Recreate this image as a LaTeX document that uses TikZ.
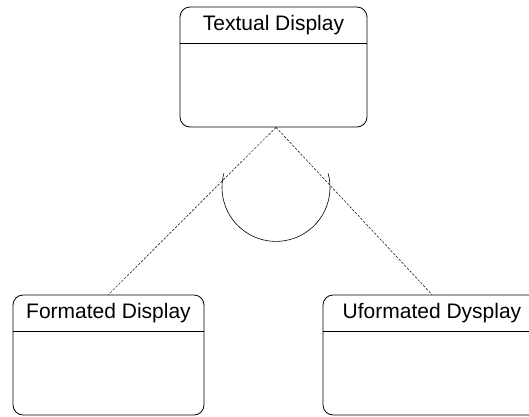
\documentclass[tikz,border=0pt]{standalone}
\usepackage{fontspec}
\setmainfont{Liberation Sans}
\usetikzlibrary{calc}

\begin{document}
\begin{tikzpicture}[
            x=1pt, y=-1pt,
            line width=0.8pt,
            classbox/.style={
                draw,
                rounded corners=10pt,
                minimum height=120pt,
                inner sep=0pt
            },
            classtitle/.style={
                anchor=north,
                minimum height=36pt,
                inner sep=0pt,
                font=\fontsize{21}{24}\selectfont
            },
            gen link/.style={
                line width=0.5pt,
                dash pattern=on 2.5pt off 1.5pt
            }
        ]
            \useasboundingbox (0,0) rectangle (529,416);
            \node[classbox, minimum width=187pt] (textual) at (273.5,67) {};
            \node[classbox, minimum width=191pt] (formated) at (108.5,355) {};
            \node[classbox, minimum width=218pt] (uformated) at (432,355) {};
            \node[classtitle] (textualT) at (textual.north) {Textual Display};
            \node[classtitle] (formatedT) at (formated.north) {Formated Display};
            \node[classtitle] (uformatedT) at (uformated.north) {Uformated Dysplay};
            % header lines
            \draw (textualT.south -| textual.west) -- (textualT.south -| textual.east);
            \draw (formatedT.south -| formated.west) -- (formatedT.south -| formated.east);
            \draw (uformatedT.south -| uformated.west) -- (uformatedT.south -| uformated.east);

            \coordinate (apex) at ($(textual.south)+(2.5,0)$);
            \coordinate (hub) at ($(apex)+(0,60)$);
            \draw[gen link] (apex) -- (formated.north);
            \draw[gen link] (apex) -- (uformated.north);
            \draw[line width=0.6pt] (hub) ++(-15:54) arc[start angle=-15, end angle=195, radius=54];
        \end{tikzpicture}
\end{document}
